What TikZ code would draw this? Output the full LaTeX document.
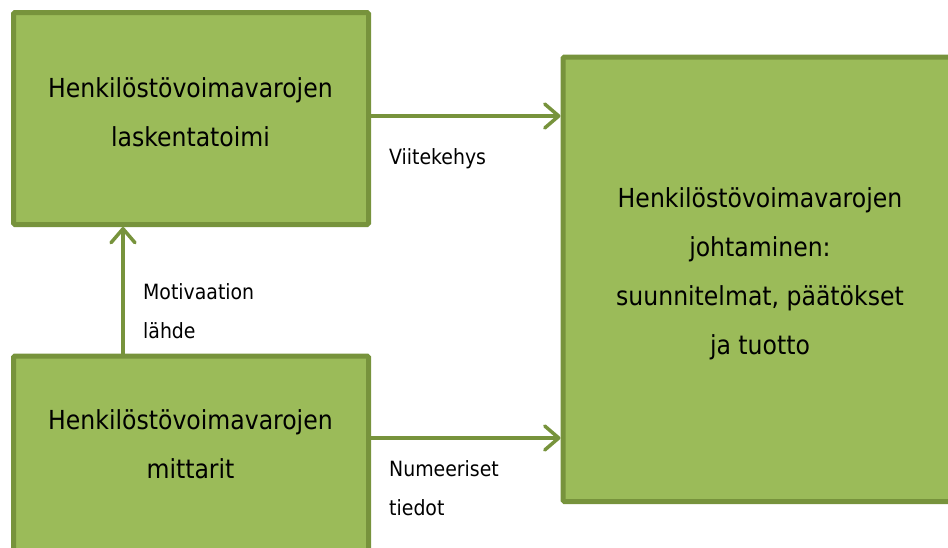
\documentclass[tikz,border=0pt]{standalone}
\usepackage{fontspec}
\setmainfont{DejaVu Sans Condensed}
\usetikzlibrary{arrows.meta}
\definecolor{boxfill}{HTML}{9BBB59}
\definecolor{boxline}{HTML}{77933C}
\begin{document}
\begin{tikzpicture}[x=1pt,y=-1pt,
  box/.style={draw=boxline, fill=boxfill, line width=5pt, rounded corners=1.5pt,
    inner sep=0pt, outer sep=0pt},
  boxtext/.style={font=\fontsize{26.2}{49}\selectfont, align=center, inner sep=0pt},
  lbl/.style={font=\fontsize{21}{39}\selectfont, align=left, inner sep=0pt, anchor=base west},
  arr/.style={draw=boxline, line width=3.5pt, line cap=round,
    -{Straight Barb[length=14pt,width=24pt,round]}, shorten >=2.5pt}
]
\useasboundingbox (0,0) rectangle (948,547);
\clip (0,0) rectangle (948,547);

% boxes
\node[box, minimum width=355pt, minimum height=212pt] (A) at (191,118.5) {};
\node[box, minimum width=355pt, minimum height=300pt, anchor=north west] (B) at (13.5,356) {};
\node[box, minimum width=394pt, minimum height=444.5pt] (C) at (760,279.25) {};

% box texts
\node[boxtext] (At) at (190.5,112) {Henkilöstövoimavarojen\\laskentatoimi};
\node[boxtext] (Bt) at (190.5,444) {Henkilöstövoimavarojen\\mittarit};
\node[boxtext] (Ct) at (760,274) {Henkilöstövoimavarojen\\johtaminen:\\suunnitelmat, päätökset\\ja tuotto};

% connectors
\draw[arr] ([yshift=2.5pt]A.east) -- ([yshift=2.5pt]A.east -| C.west);
\draw[arr] ([yshift=-82pt]B.north east) -- ([yshift=-82pt]B.north east -| C.west);
\draw[arr] ([xshift=109.5pt]B.north west) -- ([xshift=109.5pt]B.north west |- A.south);

% connector labels (anchored on the baseline of the last line)
\node[lbl] (L1) at (389,164) {Viitekehys};
\node[lbl] (L2) at (143,338) {Motivaation\\lähde};
\node[lbl] (L3) at (389,515) {Numeeriset\\tiedot};
\end{tikzpicture}
\end{document}
